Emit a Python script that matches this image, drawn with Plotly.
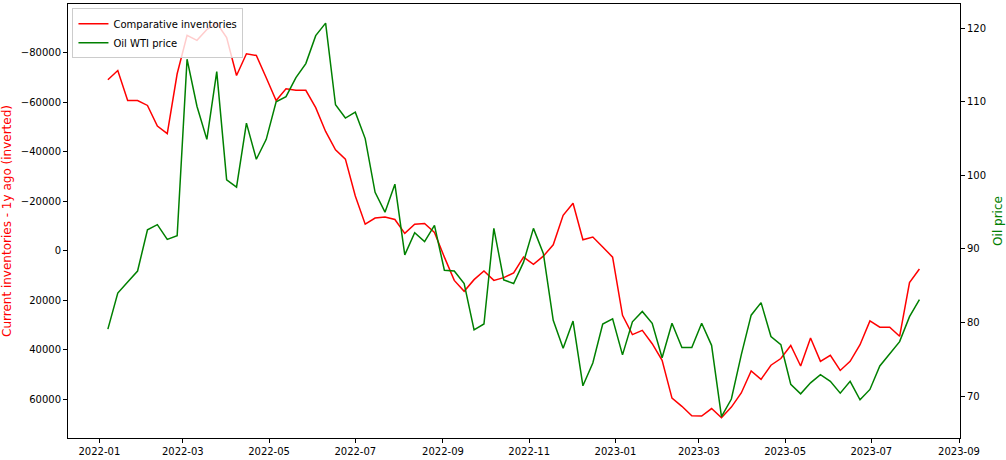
import pandas as pd
import plotly.graph_objects as go

dates = pd.date_range("2022-01-07", periods=83, freq="7D")

inventories = [
    -69.1, -72.8, -60.7, -60.7, -58.7, -50.4, -47.3, -71.5, -87.0, -85.0,
    -89.4, -92.0, -86.1, -70.8, -79.6, -78.9, -69.9, -60.7, -65.4, -64.8,
    -64.8, -57.8, -48.2, -40.8, -37.0, -22.1, -10.7, -13.2, -13.6, -12.6,
    -7.0, -10.7, -11.0, -7.4, 2.6, 12.0, 16.4, 11.7, 8.2, 12.0,
    10.9, 9.0, 2.6, 5.5, 2.2, -2.4, -14.3, -19.2, -4.4, -5.5,
    -1.5, 2.6, 26.1, 33.9, 32.2, 37.6, 44.3, 59.6, 62.9, 66.7,
    66.8, 63.8, 67.5, 63.2, 57.5, 48.6, 52.0, 46.3, 43.6, 38.3,
    46.6, 35.3, 44.7, 42.3, 48.4, 44.7, 38.0, 28.4, 30.9, 30.9,
    34.6, 12.9, 7.4,
]
inventories = [v * 1000 for v in inventories]

oil_price = [
    79.1, 84.0, 85.5, 87.0, 92.6, 93.3, 91.3, 91.8, 115.8, 109.4,
    104.9, 114.1, 99.4, 98.4, 107.1, 102.2, 104.9, 110.0, 110.7, 113.3,
    115.2, 119.0, 120.7, 109.6, 107.8, 108.6, 105.0, 97.7, 95.0, 98.8,
    89.2, 92.2, 91.0, 93.2, 87.1, 87.0, 85.3, 79.0, 79.8, 92.8,
    85.8, 85.3, 88.2, 92.8, 89.4, 80.3, 76.5, 80.2, 71.4, 74.5,
    79.8, 80.5, 75.6, 80.1, 81.5, 79.9, 75.2, 79.9, 76.6, 76.6,
    79.9, 76.9, 67.2, 69.6, 75.6, 81.0, 82.7, 78.1, 77.0, 71.6,
    70.3, 71.8, 72.9, 72.0, 70.4, 72.0, 69.5, 70.9, 74.1, 75.7,
    77.4, 80.8, 83.1,
]

left_ticks = [-80000, -60000, -40000, -20000, 0, 20000, 40000, 60000]
left_labels = [("\u2212" + str(-v)) if v < 0 else str(v) for v in left_ticks]
right_ticks = [70, 80, 90, 100, 110, 120]

FONT = "DejaVu Sans"

fig = go.Figure()
fig.add_trace(go.Scatter(x=dates, y=inventories, mode="lines", name="Comparative inventories",
                         line=dict(color="#ff0000", width=1.5), yaxis="y"))
fig.add_trace(go.Scatter(x=dates, y=oil_price, mode="lines", name="Oil WTI price",
                         line=dict(color="#008000", width=1.5), yaxis="y2"))

fig.update_layout(
    width=1006, height=460,
    margin=dict(l=68, r=46, t=4, b=22, autoexpand=False),
    paper_bgcolor="white", plot_bgcolor="white",
    font=dict(family=FONT, size=10, color="black"),
    showlegend=True,
    legend=dict(x=0.005, y=0.99, xanchor="left", yanchor="top",
                bgcolor="rgba(255,255,255,0.8)", bordercolor="#cccccc", borderwidth=1,
                font=dict(family=FONT, size=10), tracegroupgap=0, itemwidth=30),
    xaxis=dict(type="date", range=["2021-12-09 19:00", "2023-09-01 17:00"],
               tick0="2022-01-01", dtick="M2", tickformat="%Y-%m", automargin=False,
               showgrid=False, zeroline=False, showline=True, linecolor="black", linewidth=1,
               mirror=True, ticks="outside", ticklen=4, tickcolor="black"),
    yaxis=dict(range=[75700, -99700], tickvals=left_ticks, ticktext=left_labels, automargin=False,
               showgrid=False, zeroline=False, showline=True, linecolor="black", linewidth=1,
               ticks="outside", ticklen=4, tickcolor="black",
               title=dict(text="Current inventories - 1y ago (inverted)",
                          font=dict(color="#ff0000", size=12, family=FONT), standoff=6)),
    yaxis2=dict(range=[64.3, 123.3], tickvals=right_ticks, overlaying="y", side="right",
                automargin=False,
                showgrid=False, zeroline=False, showline=True, linecolor="black", linewidth=1,
                ticks="outside", ticklen=4, tickcolor="black",
                title=dict(text="Oil price", font=dict(color="#008000", size=12, family=FONT), standoff=8)),
)

fig.write_html("out.html", config={"displayModeBar": False},
               post_script="document.body.style.margin='0';document.body.style.overflow='hidden';")
